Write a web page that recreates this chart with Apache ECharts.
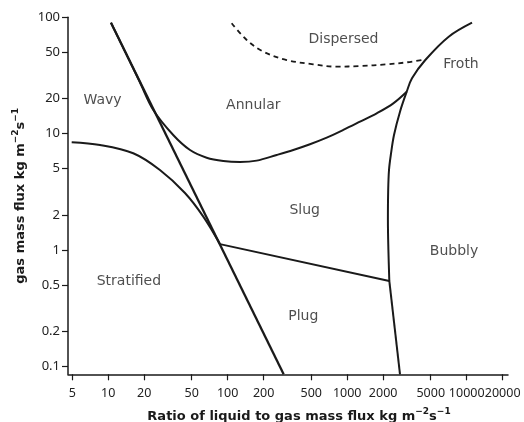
<!DOCTYPE html>
<html>
<head>
<meta charset="utf-8">
<script src="https://cdn.jsdelivr.net/npm/echarts@6/dist/echarts.min.js"></script>
<style>
  html, body { margin: 0; padding: 0; background: #fff; }
  #chart { width: 524px; height: 422px; }
</style>
</head>
<body>
<div id="chart"></div>
<script>
// ---- Data (x = ratio of liquid to gas mass flux, y = gas mass flux) ----
const xTicks = [5, 10, 20, 50, 100, 200, 500, 1000, 2000, 5000, 10000, 20000];
const yTicks = [0.1, 0.2, 0.5, 1, 2, 5, 10, 20, 50, 100];
const xRange = [4.61, 22160];
const yRange = [0.085, 100];

// straight boundary (Wavy/Annular then Stratified/Plug)
const straightLine = [[10.55, 89.9], [294, 0.085]];
// Annular / Slug boundary
const annularSlug = [[10.55, 89.9], [18.35, 27.9], [23.85, 15.95], [35.0, 9.72], [48.4, 7.22],
  [66.7, 6.20], [91.9, 5.81], [126.7, 5.70], [174.8, 5.85], [257, 6.54], [354, 7.22],
  [488, 8.09], [674, 9.22], [928, 10.74], [1280, 12.65], [1766, 14.94], [2431, 18.2], [3148, 22.9]];
// Stratified / Wavy-Slug boundary
const stratified = [[4.95, 8.42], [8.54, 7.98], [16.2, 6.77], [27.1, 4.86], [43.9, 3.08],
  [62.5, 1.93], [86.2, 1.12]];
// Slug / Plug boundary
const slugPlug = [[86.2, 1.12], [2251, 0.540]];
// Bubbly / Froth boundary (upper curved part)
const bubblyUpper = [[11080, 89.9], [7070, 68.1], [4504, 42.9], [3485, 29.9], [3148, 22.9],
  [2766, 15.43], [2464, 9.72], [2317, 6.54], [2238, 4.86], [2203, 3.27], [2191, 1.807],
  [2212, 0.998], [2251, 0.540]];
// Bubbly boundary (lower part)
const bubblyLower = [[2251, 0.540], [2766, 0.085]];
// Dispersed (dashed)
const dispersed = [[108, 88.8], [144.2, 63.8], [198.6, 50.6], [311.6, 42.9], [520, 39.4],
  [817, 37.6], [1280, 38.1], [2140, 39.4], [3148, 41.0], [4450, 43.3]];

// region labels
const regionNames = ['Wavy', 'Annular', 'Dispersed', 'Froth', 'Slug', 'Bubbly', 'Plug', 'Stratified'];
const regionPos = [[8.96, 19.25], [163.8, 17.6], [931, 65.1], [8965, 39.7], [441, 2.2],
  [7830, 0.965], [429, 0.266], [14.9, 0.533]];

// ---- build ----
const L = v => Math.log10(v);
const toLog = arr => arr.map(p => [L(p[0]), L(p[1])]);
const FONT = '"DejaVu Sans", "Noto Sans", sans-serif';
const TICKFONT = '"Noto Sans", "Open Sans", sans-serif';
const INK = '#1a1a1a';

function nearestLabel(v, ticks) {
  let best = ticks[0], bd = Infinity;
  ticks.forEach(t => { const d = Math.abs(L(t) - v); if (d < bd) { bd = d; best = t; } });
  return String(best);
}

function lineSeries(data, opts) {
  return Object.assign({
    type: 'line',
    data: toLog(data),
    showSymbol: false,
    symbol: 'none',
    silent: true,
    animation: false,
    lineStyle: { color: INK, width: 2 }
  }, opts || {});
}

const titleRich = {
  b: { fontFamily: FONT, fontSize: 13, fontWeight: 'bold', color: INK, lineHeight: 16, verticalAlign: 'bottom' },
  s: { fontFamily: FONT, fontSize: 9, fontWeight: 'bold', color: INK, lineHeight: 16, verticalAlign: 'top' }
};

const chart = echarts.init(document.getElementById('chart'), null, { renderer: 'canvas' });
chart.setOption({
  animation: false,
  grid: { left: 68, right: 16, top: 17.3, bottom: 47.7, containLabel: false, outerBoundsMode: 'none' },
  xAxis: {
    type: 'value',
    min: L(xRange[0]), max: L(xRange[1]),
    name: '{b|Ratio of liquid to gas mass flux kg m}{s|−2}{b|s}{s|−1}',
    nameLocation: 'middle',
    nameGap: 33,
    nameTextStyle: { padding: [0, 0, 0, 22], rich: titleRich },
    axisLine: { onZero: false, lineStyle: { color: INK, width: 1.5 } },
    axisTick: { customValues: xTicks.map(L), length: 6, lineStyle: { color: INK, width: 1.2 } },
    axisLabel: {
      customValues: xTicks.map(L),
      formatter: v => nearestLabel(v, xTicks),
      hideOverlap: false,
      showMinLabel: true, showMaxLabel: true,
      fontFamily: TICKFONT, fontSize: 12.5, color: '#222', margin: 13
    },
    splitLine: { show: false }
  },
  yAxis: {
    type: 'value',
    min: L(yRange[0]), max: L(yRange[1]),
    name: '{b|gas mass flux kg m}{s|−2}{b|s}{s|−1}',
    nameLocation: 'middle',
    nameGap: 38,
    nameRotate: 90,
    nameTextStyle: { rich: titleRich },
    axisLine: { show: true, onZero: false, lineStyle: { color: INK, width: 1.5 } },
    axisTick: { show: true, customValues: yTicks.map(L), length: 6, lineStyle: { color: INK, width: 1.2 } },
    axisLabel: {
      customValues: yTicks.map(L),
      formatter: v => nearestLabel(v, yTicks),
      hideOverlap: false,
      fontFamily: TICKFONT, fontSize: 13, color: '#222', margin: 8
    },
    splitLine: { show: false }
  },
  series: [
    lineSeries(straightLine, { lineStyle: { color: INK, width: 2.3 } }),
    lineSeries(annularSlug, { smooth: 0.35 }),
    lineSeries(stratified, { smooth: 0.35 }),
    lineSeries(slugPlug),
    lineSeries(bubblyUpper, { smooth: 0.35 }),
    lineSeries(bubblyLower),
    lineSeries(dispersed, { smooth: 0.35, lineStyle: { color: INK, width: 1.8, type: [5, 4] } }),
    {
      type: 'scatter',
      silent: true,
      animation: false,
      symbolSize: 1,
      itemStyle: { color: 'rgba(0,0,0,0)' },
      data: regionPos.map((p, i) => ({ value: [L(p[0]), L(p[1])], name: regionNames[i] })),
      label: {
        show: true,
        position: 'inside',
        formatter: p => p.name,
        fontFamily: FONT,
        fontSize: 14,
        color: '#222'
      }
    }
  ]
});
</script>
</body>
</html>
